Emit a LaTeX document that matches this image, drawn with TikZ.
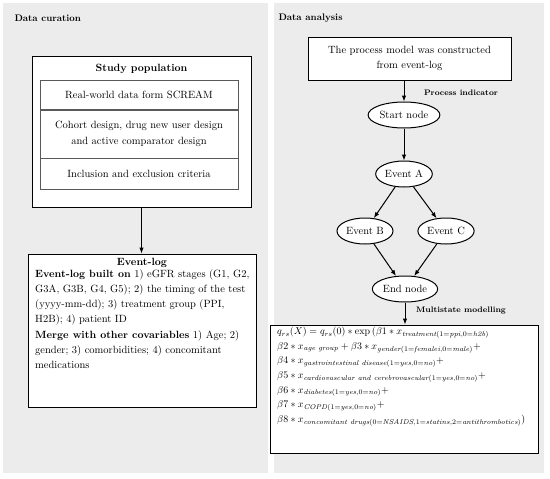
\documentclass[tikz,border=0pt]{standalone}
\usepackage{xcolor}
\usepackage{tikz}
\usetikzlibrary{shapes, arrows.meta, positioning}
\usepackage{amsmath}
\usepackage{amssymb}

\begin{document}
\begin{tikzpicture}[
                x=1pt, y=-1pt,
                every node/.style={font=\fontsize{10.5}{15.3}\selectfont},
                panel/.style={fill=gray!15, draw=none},
                box/.style={draw, line width=1pt, fill=white, inner sep=0pt},
                row/.style={draw=gray!70!black, line width=0.6pt, minimum width=198pt, align=center, inner sep=0pt},
                state/.style={draw, ellipse, line width=1pt, fill=white, minimum width=55pt, minimum height=26pt, inner sep=1pt},
                arrow/.style={-{Latex[length=6pt, width=4.5pt]}, line width=1pt},
                tag/.style={font=\fontsize{8}{9}\selectfont\bfseries},
                head/.style={anchor=west, font=\fontsize{9.5}{11}\selectfont\bfseries}
            ]
                \useasboundingbox (0,0) rectangle (550,479);
                \fill[panel] (3,3) rectangle (268,473);
                \fill[panel] (274,3) rectangle (544,473);
                \node[head] (curation) at (11,18) {Data curation};
                \node[head] (analysis) at (275,18) {Data analysis};

                % left side
                \node[box, minimum width=219pt, minimum height=151pt] (study) at (141.5,131.5) {};
                \node[font=\fontsize{10.5}{15.3}\selectfont\bfseries] (studytitle) at (141.5,69) {Study population};
                \node[row, minimum height=29pt, anchor=north] (row1) at (139,80) {Real-world data form SCREAM};
                \node[row, minimum height=48pt, below=0pt of row1] (row2) {Cohort design, drug new user design\\and active comparator design};
                \node[row, minimum height=31pt, below=0pt of row2] (row3) {Inclusion and exclusion criteria};

                \node[box, minimum width=228pt, minimum height=153pt] (eventlog) at (142,330.5) {};
                \node[font=\fontsize{10.5}{15.3}\selectfont\bfseries] (logtitle) at (142,263) {Event-log};
                \node[anchor=north west, align=left, inner sep=0pt] (logbody) at (35,269) {\textbf{Event-log built on} 1) eGFR stages (G1, G2,\\
                    G3A, G3B, G4, G5); 2) the timing of the test\\
                    (yyyy-mm-dd); 3) treatment group (PPI,\\
                    H2B); 4) patient ID\\
                    \textbf{Merge with other covariables} 1) Age; 2)\\
                    gender; 3) comorbidities; 4) concomitant\\
                    medications};

                \draw[arrow] (study.south) -- (study.south |- eventlog.north);

                % right side
                \node[box, minimum width=203pt, minimum height=43pt, align=center] (process) at (409.5,58.5) {The process model was constructed\\from event-log};
                \node[state] (start) at (404,115) {Start node};
                \node[state] (eventA) at (404,174) {Event A};
                \node[state] (eventB) at (365,231) {Event B};
                \node[state] (eventC) at (446,231) {Event C};
                \node[state] (endnode) at (405,289) {End node};
                \node[box, minimum width=268pt, minimum height=128pt] (formula) at (404,389) {};
                \node[anchor=north west, align=left, inner sep=0pt, font=\fontsize{10}{14.6}\selectfont] (model) at (277,327) {%
                    $q_{rs}(X) = q_{rs}(0) * \exp\,(\beta 1 * x_{\textit{treatment}(1=\textit{ppi},0=\textit{h2b})}$\\
                    $\beta 2 * x_{\textit{age group}} + \beta 3 * x_{\textit{gender}(1=\textit{femalei},0=\textit{male})} +$\\
                    $\beta 4 * x_{\textit{gastrointestinal disease}(1=\textit{yes},0=\textit{no})} +$\\
                    $\beta 5 * x_{\textit{cardiovascular and cerebrovascular}(1=\textit{yes},0=\textit{no})} +$\\
                    $\beta 6 * x_{\textit{diabetes}(1=\textit{yes},0=\textit{no})} +$\\
                    $\beta 7 * x_{\textit{COPD}(1=\textit{yes},0=\textit{no})} +$\\
                    $\beta 8 * x_{\textit{concomitant drugs}(0=\textit{NSAIDS},1=\textit{statins},2=\textit{antithrombotics})})$};

                \draw[arrow] (start.north |- process.south) -- (start);
                \draw[arrow] (start) -- (eventA);
                \draw[arrow] (eventA) -- (eventB);
                \draw[arrow] (eventA) -- (eventC);
                \draw[arrow] (eventB) -- (endnode);
                \draw[arrow] (eventC) -- (endnode);
                \draw[arrow] (endnode) -- (endnode |- formula.north);
                \node[tag] (indicator) at (461,93) {Process indicator};
                \node[tag] (multistate) at (461,311) {Multistate modelling};
            \end{tikzpicture}
\end{document}
